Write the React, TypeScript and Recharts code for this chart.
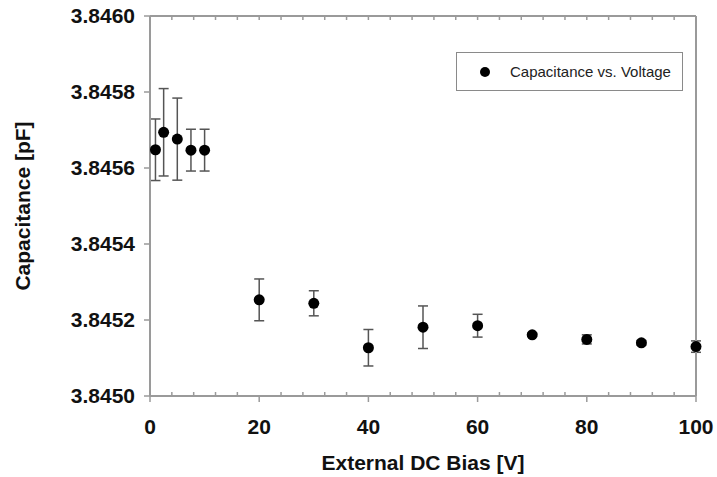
import React from "react";
import {
  ScatterChart,
  Scatter,
  XAxis,
  YAxis,
  ErrorBar,
  Legend,
  Label,
} from "recharts";

const voltages = [1, 2.5, 5, 7.5, 10, 20, 30, 40, 50, 60, 70, 80, 90, 100];
const capacitance = [
  3.845648, 3.845694, 3.845676, 3.845647, 3.845647, 3.845253, 3.845244,
  3.845127, 3.845181, 3.845185, 3.845161, 3.845149, 3.84514, 3.84513,
];
const errors = [
  0.000081, 0.000115, 0.000108, 0.000055, 0.000055, 0.000055, 0.000033,
  0.000048, 0.000056, 0.00003, 0.000004, 0.000012, 0.000006, 0.000015,
];

const xTicks = [0, 4, 8, 12, 16, 20, 24, 28, 32, 36, 40, 44, 48, 52, 56, 60, 64, 68, 72, 76, 80, 84, 88, 92, 96, 100];
const yTicks = [3.845, 3.8452, 3.8454, 3.8456, 3.8458, 3.846];
const seriesName = "Capacitance vs. Voltage";

const FONT = "'Liberation Sans', Arial, Helvetica, sans-serif";
const FRAME = "#9a9a9a";

const data = voltages.map((v, i) => ({ x: v, y: capacitance[i], err: errors[i] }));

function BottomTick(props: any) {
  const { x, y, payload } = props;
  const major = payload.value % 20 === 0;
  if (!major) {
    return <line x1={x} x2={x} y1={y} y2={y - 4} stroke={FRAME} strokeWidth={1.5} />;
  }
  return (
    <g>
      <line x1={x} x2={x} y1={y} y2={y + 6} stroke={FRAME} strokeWidth={1.5} />
      <text
        x={x}
        y={y + 38}
        textAnchor="middle"
        fontFamily={FONT}
        fontWeight="bold"
        fontSize={21}
        fill="#111"
      >
        {payload.value}
      </text>
    </g>
  );
}

function TopTick(props: any) {
  const { x, y } = props;
  return <line x1={x} x2={x} y1={y} y2={y + 4} stroke={FRAME} strokeWidth={1.5} />;
}

function YTitle(props: any) {
  const vb = props.viewBox;
  const cx = vb.x + 22;
  const cy = vb.y + vb.height / 2;
  return (
    <text
      x={cx}
      y={cy}
      transform={`rotate(-90, ${cx}, ${cy})`}
      textAnchor="middle"
      dominantBaseline="central"
      fontFamily={FONT}
      fontWeight="bold"
      fontSize={21}
      fill="#111"
    >
      Capacitance [pF]
    </text>
  );
}

function XTitle(props: any) {
  const vb = props.viewBox;
  return (
    <text
      x={vb.x + vb.width / 2}
      y={470}
      textAnchor="middle"
      fontFamily={FONT}
      fontWeight="bold"
      fontSize={21}
      fill="#111"
    >
      External DC Bias [V]
    </text>
  );
}

function LegendBox() {
  return (
    <div
      style={{
        width: 225,
        height: 37,
        border: "1px solid #8a8a8a",
        background: "#fff",
        display: "flex",
        alignItems: "center",
        fontFamily: FONT,
        fontSize: 15,
        color: "#222",
      }}
    >
      <svg width={53} height={37}>
        <circle cx={28} cy={19} r={5} fill="#000" />
      </svg>
      <span>{seriesName}</span>
    </div>
  );
}

const Dot = (props: any) => <circle cx={props.cx} cy={props.cy} r={5.5} fill="#000" />;
const NoDot = () => <g />;

export default function App() {
  return (
    <div style={{ position: "absolute", left: 0, top: 0, background: "#fff" }}>
      <ScatterChart width={717} height={477} margin={{ top: 15, right: 20, bottom: 0, left: 0 }}>
        <XAxis
          xAxisId="top"
          orientation="top"
          type="number"
          dataKey="x"
          domain={[0, 100]}
          ticks={xTicks}
          interval={0}
          height={1}
          tickSize={0}
          tickMargin={0}
          tickLine={false}
          tick={<TopTick />}
          axisLine={{ stroke: FRAME, strokeWidth: 2 }}
        />
        <XAxis
          xAxisId="main"
          type="number"
          dataKey="x"
          domain={[0, 100]}
          ticks={xTicks}
          interval={0}
          height={81}
          tickSize={0}
          tickMargin={0}
          tickLine={false}
          tick={<BottomTick />}
          axisLine={{ stroke: FRAME, strokeWidth: 2 }}
        >
          <Label content={<XTitle />} />
        </XAxis>
        <YAxis
          yAxisId="main"
          type="number"
          dataKey="y"
          domain={[3.845, 3.846]}
          ticks={yTicks}
          interval={0}
          width={150}
          tickSize={6}
          tickMargin={9}
          tickFormatter={(v: number) => v.toFixed(4)}
          tick={{ fontFamily: FONT, fontWeight: "bold", fontSize: 21, fill: "#111" }}
          tickLine={{ stroke: FRAME, strokeWidth: 1.5 }}
          axisLine={{ stroke: FRAME, strokeWidth: 2 }}
        >
          <Label content={<YTitle />} />
        </YAxis>
        <YAxis
          yAxisId="right"
          orientation="right"
          type="number"
          dataKey="y"
          domain={[3.845, 3.846]}
          width={1}
          tick={false}
          tickLine={false}
          axisLine={{ stroke: FRAME, strokeWidth: 2 }}
        />
        <Legend
          verticalAlign="middle"
          align="center"
          content={<LegendBox />}
          wrapperStyle={{ left: 456, top: 52, width: 227 }}
        />
        {/* unsichtbare Serie, damit Rahmen-Achsen oben/rechts gezeichnet werden */}
        <Scatter
          data={data}
          xAxisId="top"
          yAxisId="right"
          shape={<NoDot />}
          legendType="none"
          isAnimationActive={false}
        />
        <Scatter
          name={seriesName}
          data={data}
          xAxisId="main"
          yAxisId="main"
          fill="#000"
          shape={<Dot />}
          isAnimationActive={false}
        >
          <ErrorBar dataKey="err" direction="y" width={5} stroke="#555" strokeWidth={1.5} isAnimationActive={false} />
        </Scatter>
      </ScatterChart>
    </div>
  );
}
